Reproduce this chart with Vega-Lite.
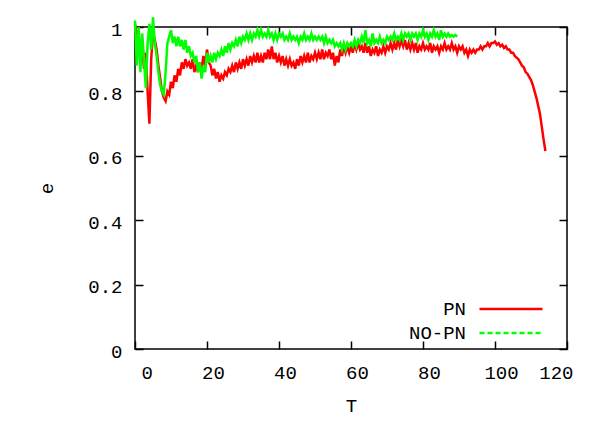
{
  "$schema": "https://vega.github.io/schema/vega-lite/v6.json",
  "autosize": "none",
  "width": 432,
  "height": 322,
  "padding": {"left": 135, "top": 27, "right": 33, "bottom": 72},
  "background": "white",
  "config": {
    "view": {"stroke": "black", "strokeWidth": 1.5},
    "font": "Liberation Mono",
    "axis": {
      "labelFont": "Liberation Mono",
      "titleFont": "Liberation Mono",
      "labelFontSize": 19,
      "titleFontSize": 19,
      "titleFontWeight": "normal",
      "labelColor": "black",
      "titleColor": "black",
      "domain": false,
      "grid": false,
      "tickColor": "black",
      "tickWidth": 1.5,
      "tickSize": -8
    },
    "legend": {"labelFont": "Liberation Mono", "labelFontSize": 19, "labelColor": "black"}
  },
  "resolve": {"axis": {"x": "independent", "y": "independent"}},
  "datasets": {
    "pn": [
      {"T":0,"e":1.01},{"T":0.5,"e":0.97},{"T":1,"e":0.99},{"T":1.5,"e":0.9},{"T":2,"e":0.95},{"T":2.5,"e":0.87},{"T":3,"e":0.92},{"T":3.5,"e":0.8},{"T":4,"e":0.7},{"T":4.5,"e":0.9},
      {"T":5,"e":0.98},{"T":5.5,"e":0.96},{"T":6,"e":0.93},{"T":6.5,"e":0.88},{"T":7,"e":0.84},{"T":7.5,"e":0.8},{"T":8,"e":0.78},{"T":8.5,"e":0.77},{"T":9,"e":0.8},{"T":9.5,"e":0.79},
      {"T":10,"e":0.83},{"T":10.5,"e":0.81},{"T":11,"e":0.85},{"T":11.5,"e":0.83},{"T":12,"e":0.87},{"T":12.5,"e":0.85},{"T":13,"e":0.89},{"T":13.5,"e":0.87},{"T":14,"e":0.9},{"T":14.5,"e":0.88},
      {"T":15,"e":0.89},{"T":15.5,"e":0.87},{"T":16,"e":0.9},{"T":16.5,"e":0.86},{"T":17,"e":0.88},{"T":17.5,"e":0.86},{"T":18,"e":0.89},{"T":18.5,"e":0.87},{"T":19,"e":0.91},{"T":19.5,"e":0.88},
      {"T":20,"e":0.93},{"T":20.5,"e":0.89},{"T":21,"e":0.88},{"T":21.5,"e":0.85},{"T":22,"e":0.87},{"T":22.5,"e":0.84},{"T":23,"e":0.86},{"T":23.5,"e":0.83},{"T":24,"e":0.85},{"T":24.5,"e":0.84},
      {"T":25,"e":0.86},{"T":25.5,"e":0.85},{"T":26,"e":0.87},{"T":26.5,"e":0.86},{"T":27,"e":0.88},{"T":27.5,"e":0.86},{"T":28,"e":0.89},{"T":28.5,"e":0.87},{"T":29,"e":0.89},{"T":29.5,"e":0.87},
      {"T":30,"e":0.9},{"T":30.5,"e":0.88},{"T":31,"e":0.9},{"T":31.5,"e":0.88},{"T":32,"e":0.91},{"T":32.5,"e":0.89},{"T":33,"e":0.91},{"T":33.5,"e":0.89},{"T":34,"e":0.92},{"T":34.5,"e":0.89},
      {"T":35,"e":0.91},{"T":35.5,"e":0.89},{"T":36,"e":0.92},{"T":36.5,"e":0.9},{"T":37,"e":0.93},{"T":37.5,"e":0.9},{"T":38,"e":0.94},{"T":38.5,"e":0.9},{"T":39,"e":0.92},{"T":39.5,"e":0.89},
      {"T":40,"e":0.91},{"T":40.5,"e":0.89},{"T":41,"e":0.91},{"T":41.5,"e":0.88},{"T":42,"e":0.9},{"T":42.5,"e":0.88},{"T":43,"e":0.9},{"T":43.5,"e":0.88},{"T":44,"e":0.89},{"T":44.5,"e":0.87},
      {"T":45,"e":0.9},{"T":45.5,"e":0.88},{"T":46,"e":0.91},{"T":46.5,"e":0.89},{"T":47,"e":0.91},{"T":47.5,"e":0.89},{"T":48,"e":0.92},{"T":48.5,"e":0.89},{"T":49,"e":0.91},{"T":49.5,"e":0.9},
      {"T":50,"e":0.92},{"T":50.5,"e":0.9},{"T":51,"e":0.92},{"T":51.5,"e":0.9},{"T":52,"e":0.93},{"T":52.5,"e":0.9},{"T":53,"e":0.92},{"T":53.5,"e":0.91},{"T":54,"e":0.93},{"T":54.5,"e":0.9},
      {"T":55,"e":0.92},{"T":55.5,"e":0.88},{"T":56,"e":0.91},{"T":56.5,"e":0.89},{"T":57,"e":0.93},{"T":57.5,"e":0.91},{"T":58,"e":0.94},{"T":58.5,"e":0.92},{"T":59,"e":0.94},{"T":59.5,"e":0.92},
      {"T":60,"e":0.94},{"T":60.5,"e":0.92},{"T":61,"e":0.95},{"T":61.5,"e":0.93},{"T":62,"e":0.95},{"T":62.5,"e":0.93},{"T":63,"e":0.94},{"T":63.5,"e":0.92},{"T":64,"e":0.95},{"T":64.5,"e":0.92},
      {"T":65,"e":0.94},{"T":65.5,"e":0.91},{"T":66,"e":0.93},{"T":66.5,"e":0.92},{"T":67,"e":0.94},{"T":67.5,"e":0.91},{"T":68,"e":0.93},{"T":68.5,"e":0.92},{"T":69,"e":0.94},{"T":69.5,"e":0.92},
      {"T":70,"e":0.94},{"T":70.5,"e":0.93},{"T":71,"e":0.95},{"T":71.5,"e":0.93},{"T":72,"e":0.95},{"T":72.5,"e":0.93},{"T":73,"e":0.96},{"T":73.5,"e":0.94},{"T":74,"e":0.96},{"T":74.5,"e":0.94},
      {"T":75,"e":0.96},{"T":75.5,"e":0.93},{"T":76,"e":0.95},{"T":76.5,"e":0.93},{"T":77,"e":0.95},{"T":77.5,"e":0.93},{"T":78,"e":0.95},{"T":78.5,"e":0.92},{"T":79,"e":0.94},{"T":79.5,"e":0.93},
      {"T":80,"e":0.95},{"T":80.5,"e":0.93},{"T":81,"e":0.94},{"T":81.5,"e":0.93},{"T":82,"e":0.95},{"T":82.5,"e":0.92},{"T":83,"e":0.94},{"T":83.5,"e":0.93},{"T":84,"e":0.94},{"T":84.5,"e":0.92},
      {"T":85,"e":0.94},{"T":85.5,"e":0.93},{"T":86,"e":0.95},{"T":86.5,"e":0.93},{"T":87,"e":0.94},{"T":87.5,"e":0.93},{"T":88,"e":0.95},{"T":88.5,"e":0.93},{"T":89,"e":0.94},{"T":89.5,"e":0.92},
      {"T":90,"e":0.94},{"T":90.5,"e":0.93},{"T":91,"e":0.94},{"T":91.5,"e":0.92},{"T":92,"e":0.93},{"T":92.5,"e":0.91},{"T":93,"e":0.93},{"T":93.5,"e":0.92},{"T":94,"e":0.93},{"T":94.5,"e":0.92},
      {"T":95,"e":0.93},{"T":95.5,"e":0.93},{"T":96,"e":0.94},{"T":96.5,"e":0.93},{"T":97,"e":0.94},{"T":97.5,"e":0.94},{"T":98,"e":0.95},{"T":98.5,"e":0.94},{"T":99,"e":0.95},{"T":99.5,"e":0.95},
      {"T":100,"e":0.955},{"T":100.5,"e":0.945},{"T":101,"e":0.95},{"T":101.5,"e":0.94},{"T":102,"e":0.945},{"T":102.5,"e":0.935},{"T":103,"e":0.94},{"T":103.5,"e":0.93},{"T":104,"e":0.93},{"T":104.5,"e":0.92},
      {"T":105,"e":0.92},{"T":105.5,"e":0.91},{"T":106,"e":0.905},{"T":106.5,"e":0.9},{"T":107,"e":0.89},{"T":107.5,"e":0.88},{"T":108,"e":0.875},{"T":108.5,"e":0.86},{"T":109,"e":0.855},{"T":109.5,"e":0.845},
      {"T":110,"e":0.835},{"T":110.5,"e":0.82},{"T":111,"e":0.8},{"T":111.5,"e":0.78},{"T":112,"e":0.755},{"T":112.5,"e":0.73},{"T":113,"e":0.69},{"T":113.5,"e":0.65},{"T":114,"e":0.615}
    ],
    "nopn": [
      {"T":0,"e":1.02},{"T":0.5,"e":0.88},{"T":1,"e":1.0},{"T":1.5,"e":0.86},{"T":2,"e":0.98},{"T":2.5,"e":0.9},{"T":3,"e":0.81},{"T":3.5,"e":0.95},{"T":4,"e":1.01},{"T":4.5,"e":0.93},
      {"T":5,"e":1.03},{"T":5.5,"e":0.95},{"T":6,"e":0.91},{"T":6.5,"e":0.86},{"T":7,"e":0.82},{"T":7.5,"e":0.8},{"T":8,"e":0.79},{"T":8.5,"e":0.86},{"T":9,"e":0.95},{"T":9.5,"e":0.97},
      {"T":10,"e":0.99},{"T":10.5,"e":0.95},{"T":11,"e":0.97},{"T":11.5,"e":0.94},{"T":12,"e":0.97},{"T":12.5,"e":0.94},{"T":13,"e":0.96},{"T":13.5,"e":0.93},{"T":14,"e":0.96},{"T":14.5,"e":0.92},
      {"T":15,"e":0.94},{"T":15.5,"e":0.91},{"T":16,"e":0.92},{"T":16.5,"e":0.89},{"T":17,"e":0.91},{"T":17.5,"e":0.86},{"T":18,"e":0.89},{"T":18.5,"e":0.84},{"T":19,"e":0.88},{"T":19.5,"e":0.86},
      {"T":20,"e":0.92},{"T":20.5,"e":0.89},{"T":21,"e":0.91},{"T":21.5,"e":0.89},{"T":22,"e":0.92},{"T":22.5,"e":0.9},{"T":23,"e":0.92},{"T":23.5,"e":0.91},{"T":24,"e":0.93},{"T":24.5,"e":0.91},
      {"T":25,"e":0.94},{"T":25.5,"e":0.92},{"T":26,"e":0.95},{"T":26.5,"e":0.93},{"T":27,"e":0.95},{"T":27.5,"e":0.94},{"T":28,"e":0.96},{"T":28.5,"e":0.94},{"T":29,"e":0.97},{"T":29.5,"e":0.95},
      {"T":30,"e":0.97},{"T":30.5,"e":0.96},{"T":31,"e":0.98},{"T":31.5,"e":0.96},{"T":32,"e":0.98},{"T":32.5,"e":0.96},{"T":33,"e":0.98},{"T":33.5,"e":0.97},{"T":34,"e":0.99},{"T":34.5,"e":0.97},
      {"T":35,"e":0.99},{"T":35.5,"e":0.97},{"T":36,"e":0.98},{"T":36.5,"e":0.97},{"T":37,"e":0.99},{"T":37.5,"e":0.97},{"T":38,"e":0.98},{"T":38.5,"e":0.96},{"T":39,"e":0.98},{"T":39.5,"e":0.96},
      {"T":40,"e":0.98},{"T":40.5,"e":0.97},{"T":41,"e":0.98},{"T":41.5,"e":0.96},{"T":42,"e":0.97},{"T":42.5,"e":0.96},{"T":43,"e":0.98},{"T":43.5,"e":0.96},{"T":44,"e":0.97},{"T":44.5,"e":0.96},
      {"T":45,"e":0.97},{"T":45.5,"e":0.95},{"T":46,"e":0.97},{"T":46.5,"e":0.96},{"T":47,"e":0.98},{"T":47.5,"e":0.96},{"T":48,"e":0.97},{"T":48.5,"e":0.96},{"T":49,"e":0.98},{"T":49.5,"e":0.96},
      {"T":50,"e":0.97},{"T":50.5,"e":0.96},{"T":51,"e":0.97},{"T":51.5,"e":0.96},{"T":52,"e":0.97},{"T":52.5,"e":0.95},{"T":53,"e":0.97},{"T":53.5,"e":0.95},{"T":54,"e":0.96},{"T":54.5,"e":0.95},
      {"T":55,"e":0.96},{"T":55.5,"e":0.94},{"T":56,"e":0.95},{"T":56.5,"e":0.94},{"T":57,"e":0.95},{"T":57.5,"e":0.93},{"T":58,"e":0.95},{"T":58.5,"e":0.93},{"T":59,"e":0.95},{"T":59.5,"e":0.94},
      {"T":60,"e":0.95},{"T":60.5,"e":0.94},{"T":61,"e":0.96},{"T":61.5,"e":0.94},{"T":62,"e":0.96},{"T":62.5,"e":0.95},{"T":63,"e":0.97},{"T":63.5,"e":0.95},{"T":64,"e":0.99},{"T":64.5,"e":0.95},
      {"T":65,"e":0.96},{"T":65.5,"e":0.94},{"T":66,"e":0.98},{"T":66.5,"e":0.95},{"T":67,"e":0.96},{"T":67.5,"e":0.95},{"T":68,"e":0.97},{"T":68.5,"e":0.95},{"T":69,"e":0.96},{"T":69.5,"e":0.95},
      {"T":70,"e":0.97},{"T":70.5,"e":0.96},{"T":71,"e":0.97},{"T":71.5,"e":0.96},{"T":72,"e":0.98},{"T":72.5,"e":0.96},{"T":73,"e":0.97},{"T":73.5,"e":0.96},{"T":74,"e":0.98},{"T":74.5,"e":0.96},
      {"T":75,"e":0.98},{"T":75.5,"e":0.97},{"T":76,"e":0.98},{"T":76.5,"e":0.96},{"T":77,"e":0.98},{"T":77.5,"e":0.97},{"T":78,"e":0.98},{"T":78.5,"e":0.96},{"T":79,"e":0.98},{"T":79.5,"e":0.97},
      {"T":80,"e":0.99},{"T":80.5,"e":0.97},{"T":81,"e":0.98},{"T":81.5,"e":0.96},{"T":82,"e":0.98},{"T":82.5,"e":0.97},{"T":83,"e":0.99},{"T":83.5,"e":0.97},{"T":84,"e":0.98},{"T":84.5,"e":0.96},
      {"T":85,"e":0.99},{"T":85.5,"e":0.97},{"T":86,"e":0.98},{"T":86.5,"e":0.97},{"T":87,"e":0.98},{"T":87.5,"e":0.97},{"T":88,"e":0.975},{"T":88.5,"e":0.97},{"T":89,"e":0.975},{"T":89.5,"e":0.97}
    ]
  },
  "layer": [
    {
      "data": {"name": "pn"},
      "transform": [{"calculate": "'PN'", "as": "series"}],
      "mark": {"type": "line", "strokeWidth": 2.5, "clip": false},
      "encoding": {
        "x": {"field": "T", "type": "quantitative", "scale": {"domain": [0, 120], "nice": false},
              "axis": {"title": "T", "values": [0, 20, 40, 60, 80, 100, 120], "labelOffset": 6, "labelPadding": 22, "titleX": 216, "titleY": 56, "titleBaseline": "middle", "titlePadding": 0}},
        "y": {"field": "e", "type": "quantitative", "scale": {"domain": [0, 1], "nice": false, "zero": true},
              "axis": {"title": "e", "values": [0, 0.2, 0.4, 0.6, 0.8, 1], "labelExpr": "datum.value == 0 ? '0' : datum.value == 1 ? '1' : format(datum.value, '.1f')", "labelPadding": 21, "labelOffset": 2, "titleX": -89, "titleY": 161, "titleBaseline": "middle", "titleAlign": "center"}},
        "color": {"field": "series", "type": "nominal", "scale": {"domain": ["PN", "NO-PN"], "range": ["#ff0000", "#00ff00"]},
                  "legend": {"title": null, "orient": "none", "legendX": 364, "legendY": 270, "symbolType": "M-3,0H3", "symbolSize": 441, "symbolStrokeWidth": 2.5, "labelAlign": "right", "labelOffset": -57, "rowPadding": 2, "labelFontSize": 19,
                             "encode": {"symbols": {"update": {"strokeDash": {"signal": "datum.label === 'NO-PN' ? [5, 3] : [1, 0]"}}}}}}
      }
    },
    {
      "data": {"name": "nopn"},
      "transform": [{"calculate": "'NO-PN'", "as": "series"}],
      "mark": {"type": "line", "strokeWidth": 2.5, "clip": false},
      "encoding": {
        "x": {"field": "T", "type": "quantitative", "axis": {"orient": "top", "labels": false, "title": null, "values": [0, 20, 40, 60, 80, 100, 120]}},
        "y": {"field": "e", "type": "quantitative", "axis": {"orient": "right", "labels": false, "title": null, "values": [0, 0.2, 0.4, 0.6, 0.8, 1]}},
        "color": {"field": "series", "type": "nominal"}
      }
    }
  ]
}
